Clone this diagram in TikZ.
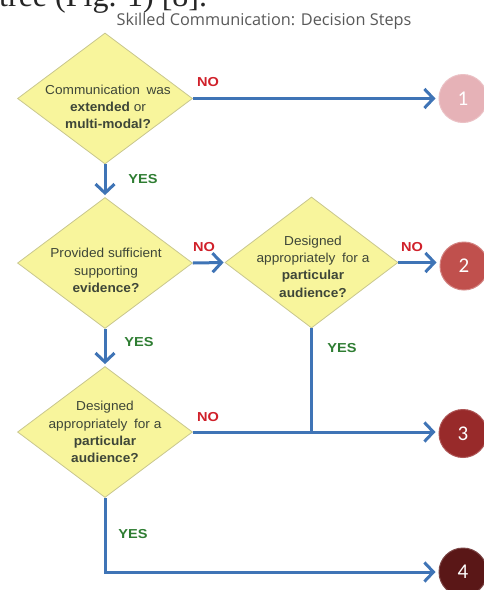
\documentclass[tikz,border=0pt]{standalone}
\usepackage{fontspec}
\setmainfont{Liberation Sans}
\newfontfamily\titlefont{Open Sans}
\newfontfamily\numfont{Carlito}
\newfontfamily\serifcut{Liberation Serif}
\newfontfamily\dfont[FakeStretch=1.05]{Liberation Sans}
\newfontfamily\labfont[FakeStretch=1.12]{Liberation Sans}
\usetikzlibrary{shapes.geometric,arrows.meta}
\definecolor{dfill}{HTML}{F8F59C}
\definecolor{ddraw}{HTML}{C9C78E}
\definecolor{dtext}{HTML}{3E4638}
\definecolor{arrowblue}{HTML}{3F74B6}
\definecolor{nored}{HTML}{D0202A}
\definecolor{yesgreen}{HTML}{2E7D32}
\definecolor{titlegray}{HTML}{595959}
\definecolor{cone}{HTML}{E6B2B7}
\definecolor{ctwo}{HTML}{C0504D}
\definecolor{cthree}{HTML}{982A2A}
\definecolor{cfour}{HTML}{5A1717}
\tikzset{
  decision/.style={diamond, draw=ddraw, fill=dfill, line width=0.8pt,
    minimum width=#1, minimum height=131pt, inner sep=0pt},
  decision/.default=175pt,
  dtextstyle/.style={align=center, text=dtext, inner sep=0pt,
    font=\dfont\fontsize{13}{17.3}\selectfont},
  outcome/.style={circle, minimum size=48pt, inner sep=0pt, text=white,
    font=\numfont\fontsize{21}{21}\selectfont, line width=1pt},
  flow/.style={draw=arrowblue, line width=3pt,
    -{Straight Barb[length=9pt,width=19pt]}},
  plainflow/.style={draw=arrowblue, line width=3pt},
  nolab/.style={text=nored, inner sep=0pt, font=\labfont\bfseries\fontsize{13}{14}\selectfont},
  yeslab/.style={text=yesgreen, inner sep=0pt, font=\labfont\bfseries\fontsize{13}{14}\selectfont}
}
\begin{document}
\begin{tikzpicture}[x=1pt,y=-1pt]
\useasboundingbox (0,0) rectangle (484,590);
\clip (0,0) rectangle (484,590);
\fill[white] (0,0) rectangle (484,590);
% cut-off text line at the top
\node[anchor=base west, inner sep=0pt, font=\serifcut\fontsize{32}{32}\selectfont, text=black!85] (cut) at (-1,6.5) {tree (Fig. 1) [8].};
% title
\node[font=\titlefont\fontsize{16.3}{19}\selectfont, text=titlegray] (title) at (264,21) {Skilled Communication: Decision Steps};
% decisions
\node[decision] (d1) at (105,98.5) {};
\node[decision] (d2) at (105,263) {};
\node[decision=173pt] (d3) at (311.5,262.5) {};
\node[decision] (d4) at (105,432) {};
\node[dtextstyle] (t1) at (108,107) {Communication\enspace was\\\textbf{extended} or\\\textbf{multi-modal?}};
\node[dtextstyle] (t2) at (106,270.5) {Provided sufficient\\supporting\\\textbf{evidence?}};
\node[dtextstyle] (t3) at (313,266.5) {Designed\\appropriately\enspace for a\\\textbf{particular}\\\textbf{audience?}};
\node[dtextstyle] (t4) at (105,432) {Designed\\appropriately\enspace for a\\\textbf{particular}\\\textbf{audience?}};
% outcomes
\node[outcome, fill=cone, draw=cone!80!white] (c1) at (463,98.5) {1};
\node[outcome, fill=ctwo, draw=ctwo!70!white] (c2) at (464,266) {2};
\node[outcome, fill=cthree, draw=cthree!80!white] (c3) at (463,433.5) {3};
\node[outcome, fill=cfour, draw=cfour!80!white] (c4) at (463,572) {4};
% connectors
\draw[flow, shorten >=3pt] (d1.east) -- (d1.east -| c1.west);
\draw[flow, shorten >=2pt] (d1.south) -- (d2.north);
\draw[flow, shorten >=1pt] (d2.east) -- (d3.west);
\draw[flow, shorten >=3pt] (d3.east) -- (d3.east -| c2.west);
\draw[flow, shorten >=2pt] (d2.south) -- (d4.north);
\coordinate (j) at (d3.south |- d4.east);
\draw[plainflow] (d3.south) -- (j);
\draw[flow, shorten >=3pt] (d4.east) -- (d4.east -| c3.west);
\draw[flow, shorten >=3pt] (d4.south) |- (c4.west);
% labels
\node[nolab] (n1) at (208,82) {NO};
\node[yeslab] (y1) at (143,179) {YES};
\node[nolab] (n2) at (204,247) {NO};
\node[nolab] (n3) at (412,247) {NO};
\node[yeslab] (y2) at (139,342) {YES};
\node[yeslab] (y3) at (342,348) {YES};
\node[nolab] (n4) at (208,417) {NO};
\node[yeslab] (y4) at (133,534) {YES};
\end{tikzpicture}
\end{document}
